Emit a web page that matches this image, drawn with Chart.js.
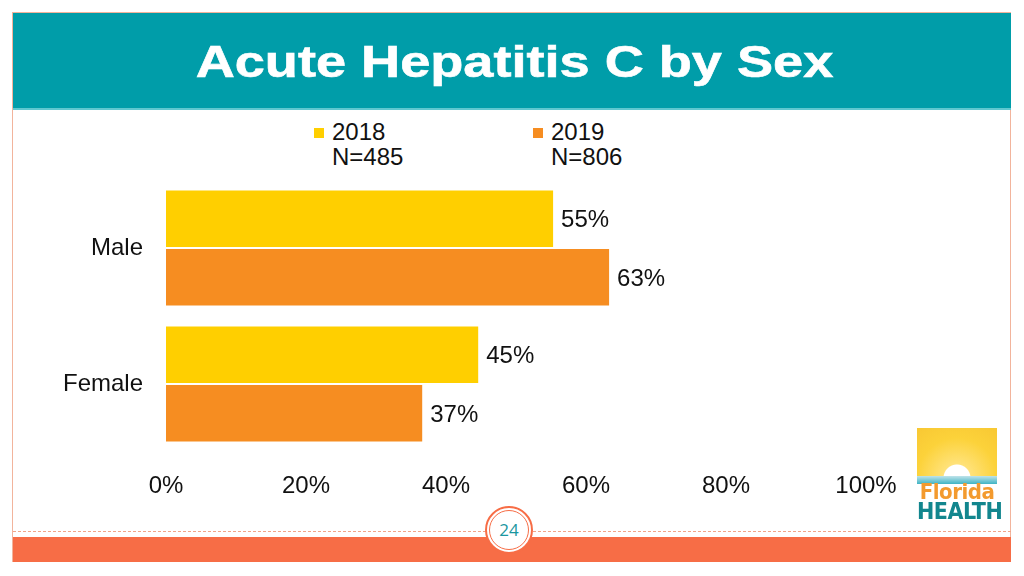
<!DOCTYPE html>
<html>
<head>
<meta charset="utf-8">
<script src="https://cdn.jsdelivr.net/npm/chart.js@4.4.1/dist/chart.umd.min.js"></script>
<style>
  body { margin: 0; width: 1024px; height: 576px; background: #fff; position: relative; overflow: hidden; font-family: "Liberation Sans", Arial, sans-serif; }
  .frame { position: absolute; left: 12px; top: 12px; width: 999px; height: 550px; border: 1px solid #f2b49c; box-sizing: border-box; }
  .titlebar { position: absolute; left: 13px; top: 13px; width: 998px; height: 97px; background: #009da9; border-bottom: 2px solid #5fc8d0; box-sizing: border-box; }
  .titlebar h1 { margin: 0; color: #fff; font: bold 44px "Liberation Sans", Arial, sans-serif; text-align: center; line-height: 97px; padding-left: 4px; transform: scaleX(1.23); transform-origin: 50% 50%; -webkit-text-stroke: 0.6px #fff; }
  .legend { position: absolute; top: 119px; font-size: 24px; color: #111; line-height: 25px; }
  .legend .sw { position: absolute; left: -18px; top: 9px; width: 10px; height: 10px; }
  .dash { position: absolute; left: 13px; top: 531px; width: 998px; border-top: 1px dashed #f2a488; }
  .band { position: absolute; left: 13px; top: 537px; width: 998px; height: 25px; background: #f76d46; }
  .page { position: absolute; left: 485px; top: 506px; width: 48px; height: 48px; border-radius: 50%; background: #fff; box-sizing: border-box; border: 2px solid #f76d46; }
  .page .inner { position: absolute; left: 2px; top: 2px; right: 2px; bottom: 2px; border-radius: 50%; border: 1.5px solid #f76d46; color: #1a97a0; font: 17px "Open Sans", sans-serif; text-align: center; line-height: 38px; }
  .logo { position: absolute; left: 917px; top: 428px; width: 80px; height: 92px; }
  .logo .sun { position: absolute; left: 0; top: 0; width: 80px; height: 50px; background: radial-gradient(circle at 50% 100%, #fff 0 13px, #ffe27a 14px, #fcd23a 40px, #f7c531 70px); }
  .logo .sea { position: absolute; left: 0; top: 48px; width: 80px; height: 8px; background: linear-gradient(#bfe3ea, #3fb4c4); }
  .logo .fl { position: absolute; left: 0; top: 51px; width: 80px; text-align: center; color: #f39a2e; font: bold 22px "Liberation Sans Narrow", "DejaVu Sans Condensed", sans-serif; letter-spacing: -0.5px; }
  .logo .he { position: absolute; left: 0; top: 70px; width: 80px; text-align: center; color: #12868e; font: bold 23px "Liberation Sans Narrow", "DejaVu Sans Condensed", sans-serif; letter-spacing: -0.5px; }
  #wrap { position: absolute; left: 40px; top: 175px; width: 880px; height: 330px; }
</style>
</head>
<body>
<div class="frame"></div>
<div class="titlebar"><h1>Acute Hepatitis C by Sex</h1></div>
<div id="legend"></div>
<div id="wrap"><canvas id="sexChart"></canvas></div>
<div class="logo"><div class="sun"></div><div class="sea"></div><div class="fl">Florida</div><div class="he">HEALTH</div></div>
<div class="dash"></div>
<div class="band"></div>
<div class="page"><div class="inner">24</div></div>
<script>
const categories = ["Male", "Female"];
const seriesNames = ["2018", "2019"];
const seriesCounts = ["N=485", "N=806"];
const values2018 = [55.3, 44.6];
const values2019 = [63.3, 36.6];
const xTicks = [0, 20, 40, 60, 80, 100];
const colors = ["#ffcf00", "#f68d21"];

// legend (two-line labels)
const legendBox = document.getElementById("legend");
const legendLeft = [332, 551];
seriesNames.forEach((name, i) => {
  const d = document.createElement("div");
  d.className = "legend";
  d.style.left = legendLeft[i] + "px";
  d.innerHTML = '<span class="sw" style="background:' + colors[i] + '"></span>' + name + "<br>" + seriesCounts[i];
  legendBox.appendChild(d);
});

const valueLabels = {
  id: "valueLabels",
  afterDatasetsDraw(chart) {
    const ctx = chart.ctx;
    ctx.save();
    ctx.font = "24px 'Liberation Sans', Arial, sans-serif";
    ctx.fillStyle = "#111";
    ctx.textBaseline = "middle";
    chart.data.datasets.forEach((ds, i) => {
      chart.getDatasetMeta(i).data.forEach((bar, j) => {
        ctx.fillText(Math.round(ds.data[j]) + "%", bar.x + 8, bar.y + 2);
      });
    });
    ctx.restore();
  },
};

const sexChart = document.getElementById("sexChart");

new Chart(sexChart, {
  type: "bar",
  data: {
    labels: categories,
    datasets: [
      {
        label: seriesNames[0],
        data: values2018,
        backgroundColor: colors[0],
        categoryPercentage: 0.86,
        barPercentage: 0.97,
      },
      {
        label: seriesNames[1],
        data: values2019,
        backgroundColor: colors[1],
        categoryPercentage: 0.86,
        barPercentage: 0.97,
      },
    ],
  },
  plugins: [valueLabels],
  options: {
    indexAxis: "y",
    responsive: true,
    maintainAspectRatio: false,
    animation: false,
    events: [],
    layout: {
      padding: { top: 5, right: 54, left: 0, bottom: 0 },
    },
    plugins: {
      legend: { display: false },
      tooltip: { enabled: false },
      title: { display: false },
    },
    scales: {
      x: {
        min: 0,
        max: 100,
        afterBuildTicks: (scale) => {
          scale.ticks = xTicks.map((v) => ({ value: v }));
        },
        afterFit: (scale) => {
          scale.height = 53;
        },
        grid: { display: false, drawTicks: false },
        border: { display: false },
        ticks: {
          padding: 20,
          color: "#111",
          font: { family: "'Liberation Sans', Arial, sans-serif", size: 24 },
          callback: (v) => v + "%",
        },
      },
      y: {
        afterFit: (scale) => {
          scale.width = 126;
          // drop the label half-height padding so the plot starts right under the legend
          scale.paddingTop = 0;
          scale.paddingBottom = 0;
        },
        grid: { display: false, drawTicks: false },
        border: { display: false },
        ticks: {
          padding: 23,
          color: "#111",
          font: { family: "'Liberation Sans', Arial, sans-serif", size: 24 },
        },
      },
    },
  },
});
</script>
</body>
</html>
